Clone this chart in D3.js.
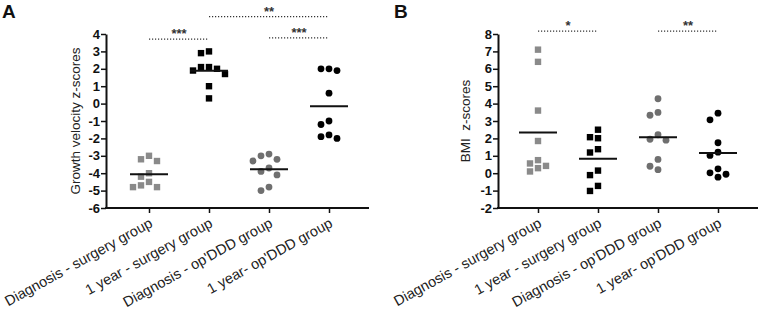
<!DOCTYPE html>
<html>
<head>
<meta charset="utf-8">
<script src="https://cdn.jsdelivr.net/npm/d3@7"></script>
<style>
  body { margin: 0; background: #fff; }
  text { font-family: Arial, "Liberation Sans", sans-serif; }
</style>
</head>
<body>
<div id="chart"></div>
<script>
// categories
const groups = ["Diagnosis - surgery group", "1 year - surgery group", "Diagnosis - op'DDD group", "1 year- op'DDD group"];

// panel A - growth velocity z-scores
const gvDiagSurgery = [-3.0, -3.3, -3.2, -4.0, -4.2, -4.5, -4.7, -4.8, -4.8];
const gvYearSurgery = [3.0, 2.9, 2.1, 2.0, 1.7, 1.9, 2.1, 1.0, 0.3];
const gvDiagDDD = [-3.0, -3.3, -3.2, -2.9, -3.9, -4.1, -3.7, -5.0, -4.8];
const gvYearDDD = [2.0, 1.9, 2.0, 0.6, -1.0, -1.2, -1.8, -2.0, -1.9];

// panel B - BMI z-scores
const bmiDiagSurgery = [7.1, 6.4, 3.6, 1.85, 0.75, 0.42, 0.56, 0.1, 0.29];
const bmiYearSurgery = [2.5, 2.07, 2.01, 1.38, 1.19, 0.15, -0.11, -0.73, -1.02];
const bmiDiagDDD = [4.28, 3.49, 3.33, 2.21, 1.9, 1.95, 0.79, 0.2, 0.4];
const bmiYearDDD = [3.45, 3.07, 1.75, 1.21, 1.02, 0.02, 0.25, -0.06, -0.23];

// y ticks
const gvTicks = [4, 3, 2, 1, 0, -1, -2, -3, -4, -5, -6];
const bmiTicks = [8, 7, 6, 5, 4, 3, 2, 1, 0, -1, -2];

// significance brackets (group index from/to, label, height in data units)
const sigA = [
  {from: 0, to: 1, label: "***", at: 3.7},
  {from: 2, to: 3, label: "***", at: 3.78},
  {from: 1, to: 3, label: "**", at: 5.0}
];
const sigB = [
  {from: 0, to: 1, label: "*", at: 8.17},
  {from: 2, to: 3, label: "**", at: 8.17}
];

// marker per group: gray square, black square, gray circle, black circle
const shapes = ["square", "square", "circle", "circle"];
const fills = ["#8a8a8a", "#000", "#6f6f6f", "#000"];

const svg = d3.select("#chart").append("svg")
  .attr("width", 762)
  .attr("height", 313);

// simple beeswarm: spread points sideways when they would overlap
function swarm(values, y, s) {
  const placed = [];
  const offs = new Array(values.length);
  const order = d3.range(values.length).sort((a, b) => d3.descending(values[a], values[b]));
  order.forEach(i => {
    const py = y(values[i]);
    for (let k = 0; ; k++) {
      const dx = k === 0 ? 0 : (k % 2 ? -1 : 1) * Math.ceil(k / 2) * s;
      if (placed.every(p => Math.hypot(p.dx - dx, p.py - py) >= s)) {
        offs[i] = dx;
        placed.push({dx, py});
        break;
      }
    }
  });
  return offs;
}

function panel(opt) {
  const g = svg.append("g");
  const y = d3.scaleLinear(opt.domain, [208, 34]);
  const x = d3.scalePoint(groups, [opt.x0 + opt.first, opt.x0 + opt.first + 180]);

  // panel letter
  g.append("text")
    .attr("x", opt.letterX)
    .attr("y", 18)
    .style("font-size", "19px")
    .style("font-weight", "600")
    .attr("fill", "#111")
    .text(opt.letter);

  // y axis
  const yAxis = g.append("g")
    .attr("transform", `translate(${opt.x0},0)`)
    .call(d3.axisLeft(y).tickValues(opt.ticks).tickFormat(d => String(d)).tickSize(5).tickSizeOuter(0));
  yAxis.select(".domain").attr("stroke-width", 2).attr("stroke", "#111");
  yAxis.selectAll(".tick line").attr("stroke-width", 1.5).attr("stroke", "#111");
  yAxis.selectAll(".tick text")
    .attr("x", -6)
    .style("font-size", "13px")
    .style("font-weight", "bold")
    .style("font-family", "Arial, 'Liberation Sans', sans-serif")
    .attr("fill", "#111");

  // x axis
  const xAxis = g.append("g")
    .attr("transform", "translate(0,208)")
    .call(d3.axisBottom(x).tickSize(5).tickSizeOuter(0));
  xAxis.select(".domain").remove();
  g.append("line")
    .attr("x1", opt.x0 - 1).attr("x2", opt.xEnd)
    .attr("y1", 208).attr("y2", 208)
    .attr("stroke", "#111").attr("stroke-width", 2);
  xAxis.selectAll(".tick line").attr("stroke-width", 1.5).attr("stroke", "#111");
  xAxis.selectAll(".tick text")
    .attr("y", 0).attr("dy", 0)
    .attr("text-anchor", "end")
    .attr("transform", "translate(4,18) rotate(-29)")
    .style("font-size", "14.5px")
    .style("font-family", "Arial, 'Liberation Sans', sans-serif")
    .attr("fill", "#222");

  // y title
  g.append("text")
    .attr("transform", `translate(${opt.titleX},121) rotate(-90)`)
    .attr("text-anchor", "middle")
    .style("font-size", "13.5px")
    .attr("fill", "#222")
    .attr("xml:space", "preserve")
    .text(opt.title);

  // points and mean lines
  opt.series.forEach((vals, gi) => {
    const cx = x(groups[gi]);
    const offs = swarm(vals, y, 8);
    const pts = g.append("g");
    if (shapes[gi] === "square") {
      pts.selectAll("rect").data(vals).join("rect")
        .attr("x", (d, i) => cx + offs[i] - 3.2)
        .attr("y", d => y(d) - 3.2)
        .attr("width", 6.4).attr("height", 6.4)
        .attr("fill", fills[gi]);
    } else {
      pts.selectAll("circle").data(vals).join("circle")
        .attr("cx", (d, i) => cx + offs[i])
        .attr("cy", d => y(d))
        .attr("r", 3.4)
        .attr("fill", fills[gi]);
    }
    const m = d3.mean(vals);
    g.append("line")
      .attr("x1", cx - 19).attr("x2", cx + 19)
      .attr("y1", y(m)).attr("y2", y(m))
      .attr("stroke", "#111").attr("stroke-width", 2);
  });

  // significance brackets
  opt.sig.forEach(s => {
    const yy = y(s.at);
    g.append("line")
      .attr("x1", x(groups[s.from])).attr("x2", x(groups[s.to]))
      .attr("y1", yy).attr("y2", yy)
      .attr("stroke", "#333").attr("stroke-width", 1.2)
      .attr("stroke-dasharray", "1.2,1.8");
    g.append("text")
      .attr("x", (x(groups[s.from]) + x(groups[s.to])) / 2)
      .attr("y", yy - 1)
      .attr("text-anchor", "middle")
      .style("font-size", "13px")
      .style("font-weight", "bold")
      .attr("fill", "#333")
      .text(s.label);
  });
}

panel({
  letter: "A", letterX: 2, x0: 106, first: 43, xEnd: 369, titleX: 80,
  domain: [-6, 4], ticks: gvTicks, title: "Growth velocity z-scores",
  series: [gvDiagSurgery, gvYearSurgery, gvDiagDDD, gvYearDDD], sig: sigA
});
panel({
  letter: "B", letterX: 394, x0: 498, first: 40, xEnd: 758, titleX: 470,
  domain: [-2, 8], ticks: bmiTicks, title: "BMI  z-scores",
  series: [bmiDiagSurgery, bmiYearSurgery, bmiDiagDDD, bmiYearDDD], sig: sigB
});
</script>
</body>
</html>
